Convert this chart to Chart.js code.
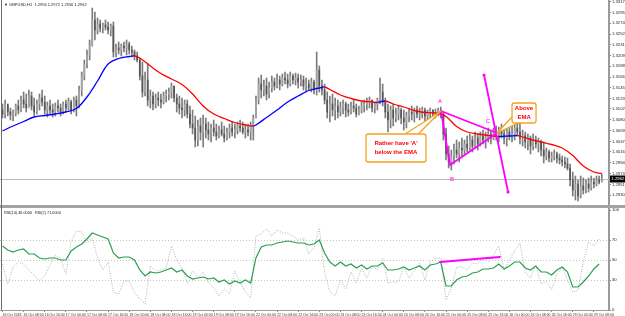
<!DOCTYPE html>
<html>
<head>
<meta charset="utf-8">
<script src="https://cdn.jsdelivr.net/npm/chart.js@4.4.1/dist/chart.umd.min.js"></script>
<style>
html,body{margin:0;padding:0;background:#fff;width:625px;height:316px;overflow:hidden;}
#wrap{position:relative;width:625px;height:316px;background:#fff;}
#c1{position:absolute;left:0;top:0;width:625px;height:205px;}
#c2{position:absolute;left:0;top:208px;width:625px;height:108px;}
#sep{position:absolute;left:0;top:205px;width:625px;height:3px;background:#a3a3a3;}
#lb{position:absolute;left:1px;top:0;width:1px;height:310px;background:#6a6a6a;}
</style>
</head>
<body>
<div id="wrap">
<canvas id="c1" width="625" height="205"></canvas>
<div id="sep"></div>
<canvas id="c2" width="625" height="108"></canvas>
<div id="lb"></div>
</div>
<script>
// ---------------- DATA ----------------
const symbolName = 'GBPUSD,H1';

const openP = [
1.3100,1.3092,1.3112,1.3096,1.3090,1.3094,1.3108,1.3100,1.3120,1.3112,
1.3104,1.3128,1.3108,1.3096,1.3112,1.3124,1.3116,1.3100,1.3108,1.3100,
1.3096,1.3108,1.3104,1.3096,1.3112,1.3104,1.3116,1.3100,1.3120,1.3108,
1.3140,1.3168,1.3192,1.3210,1.3228,1.3280,1.3260,1.3272,1.3264,1.3270,
1.3266,1.3260,1.3268,1.3216,1.3224,1.3220,1.3228,1.3224,1.3232,1.3220,
1.3216,1.3208,1.3200,1.3168,1.3136,1.3160,1.3120,1.3128,1.3112,1.3124,
1.3120,1.3116,1.3128,1.3132,1.3136,1.3148,1.3124,1.3112,1.3104,1.3100,
1.3112,1.3092,1.3072,1.3064,1.3040,1.3068,1.3056,1.3072,1.3060,1.3052,
1.3064,1.3056,1.3048,1.3060,1.3052,1.3044,1.3056,1.3064,1.3056,1.3060,
1.3068,1.3064,1.3056,1.3060,1.3056,1.3068,1.3084,1.3120,1.3152,1.3140,
1.3148,1.3132,1.3144,1.3156,1.3148,1.3160,1.3152,1.3164,1.3160,1.3152,
1.3168,1.3160,1.3164,1.3156,1.3160,1.3148,1.3152,1.3144,1.3156,1.3140,
1.3180,1.3148,1.3140,1.3120,1.3096,1.3112,1.3100,1.3108,1.3096,1.3104,
1.3112,1.3100,1.3096,1.3108,1.3104,1.3092,1.3100,1.3108,1.3112,1.3116,
1.3120,1.3104,1.3112,1.3120,1.3136,1.3116,1.3096,1.3080,1.3100,1.3084,
1.3092,1.3100,1.3084,1.3076,1.3088,1.3096,1.3092,1.3100,1.3092,1.3096,
1.3100,1.3088,1.3096,1.3100,1.3092,1.3096,1.3100,1.3092,1.3052,1.3012,
1.2996,1.3008,1.3020,1.3012,1.3024,1.3020,1.3032,1.3024,1.3040,1.3028,
1.3044,1.3032,1.3048,1.3040,1.3044,1.3052,1.3044,1.3056,1.3048,1.3060,
1.3052,1.3044,1.3056,1.3048,1.3052,1.3064,1.3056,1.3044,1.3048,1.3036,
1.3044,1.3028,1.3040,1.3032,1.3036,1.3020,1.3008,1.3016,1.3004,1.3008,
1.3012,1.3004,1.3000,1.2996,1.2992,1.2984,1.2960,1.2940,1.2952,1.2928,
1.2948,1.2940,1.2952,1.2944,1.2956,1.2952,1.2960,1.2956
];
const highP = [
1.3112,1.3120,1.3110,1.3104,1.3100,1.3112,1.3120,1.3128,1.3136,1.3132,
1.3140,1.3136,1.3124,1.3120,1.3132,1.3140,1.3128,1.3116,1.3120,1.3112,
1.3114,1.3120,1.3112,1.3116,1.3120,1.3124,1.3120,1.3126,1.3128,1.3148,
1.3176,1.3200,1.3220,1.3240,1.3304,1.3296,1.3284,1.3280,1.3274,1.3280,
1.3276,1.3272,1.3276,1.3232,1.3236,1.3232,1.3236,1.3240,1.3236,1.3228,
1.3220,1.3216,1.3204,1.3196,1.3176,1.3192,1.3140,1.3136,1.3132,1.3136,
1.3132,1.3136,1.3140,1.3144,1.3154,1.3148,1.3132,1.3128,1.3124,1.3120,
1.3120,1.3108,1.3100,1.3088,1.3080,1.3084,1.3090,1.3084,1.3076,1.3072,
1.3080,1.3072,1.3068,1.3076,1.3068,1.3064,1.3072,1.3076,1.3072,1.3076,
1.3080,1.3076,1.3072,1.3072,1.3076,1.3090,1.3128,1.3164,1.3170,1.3160,
1.3164,1.3156,1.3168,1.3164,1.3172,1.3168,1.3172,1.3176,1.3172,1.3176,
1.3172,1.3174,1.3172,1.3170,1.3168,1.3164,1.3160,1.3164,1.3160,1.3216,
1.3188,1.3160,1.3152,1.3136,1.3128,1.3132,1.3124,1.3120,1.3116,1.3120,
1.3116,1.3112,1.3116,1.3120,1.3112,1.3108,1.3116,1.3120,1.3124,1.3126,
1.3120,1.3116,1.3124,1.3164,1.3152,1.3124,1.3112,1.3108,1.3112,1.3104,
1.3108,1.3104,1.3100,1.3096,1.3104,1.3108,1.3104,1.3108,1.3104,1.3106,
1.3104,1.3100,1.3104,1.3100,1.3102,1.3104,1.3106,1.3096,1.3064,1.3028,
1.3020,1.3032,1.3040,1.3036,1.3044,1.3040,1.3048,1.3052,1.3048,1.3056,
1.3052,1.3056,1.3060,1.3056,1.3064,1.3060,1.3064,1.3068,1.3066,1.3072,
1.3068,1.3064,1.3072,1.3068,1.3076,1.3084,1.3074,1.3060,1.3056,1.3052,
1.3048,1.3052,1.3048,1.3044,1.3040,1.3036,1.3024,1.3020,1.3016,1.3020,
1.3016,1.3012,1.3008,1.3006,1.3004,1.2992,1.2976,1.2968,1.2960,1.2968,
1.2964,1.2960,1.2964,1.2968,1.2964,1.2968,1.2968,1.2972
];
const lowP = [
1.3084,1.3084,1.3088,1.3080,1.3078,1.3088,1.3092,1.3096,1.3104,1.3096,
1.3108,1.3100,1.3088,1.3092,1.3100,1.3108,1.3092,1.3086,1.3092,1.3086,
1.3088,1.3096,1.3088,1.3092,1.3096,1.3100,1.3092,1.3096,1.3088,1.3104,
1.3128,1.3160,1.3184,1.3200,1.3228,1.3240,1.3252,1.3256,1.3254,1.3260,
1.3252,1.3248,1.3206,1.3206,1.3212,1.3208,1.3216,1.3210,1.3212,1.3206,
1.3200,1.3196,1.3160,1.3126,1.3128,1.3108,1.3104,1.3100,1.3104,1.3108,
1.3104,1.3112,1.3116,1.3120,1.3124,1.3116,1.3096,1.3092,1.3084,1.3088,
1.3084,1.3064,1.3052,1.3026,1.3028,1.3040,1.3026,1.3044,1.3040,1.3036,
1.3048,1.3040,1.3044,1.3048,1.3036,1.3040,1.3044,1.3048,1.3044,1.3052,
1.3056,1.3052,1.3044,1.3048,1.3040,1.3040,1.3084,1.3112,1.3124,1.3128,
1.3120,1.3124,1.3136,1.3140,1.3144,1.3140,1.3148,1.3152,1.3144,1.3148,
1.3152,1.3150,1.3144,1.3148,1.3140,1.3136,1.3140,1.3136,1.3132,1.3130,
1.3136,1.3130,1.3112,1.3084,1.3076,1.3088,1.3080,1.3084,1.3088,1.3092,
1.3086,1.3088,1.3092,1.3096,1.3086,1.3090,1.3094,1.3096,1.3100,1.3104,
1.3096,1.3094,1.3100,1.3112,1.3108,1.3084,1.3056,1.3064,1.3068,1.3076,
1.3080,1.3072,1.3060,1.3064,1.3076,1.3080,1.3076,1.3084,1.3080,1.3084,
1.3078,1.3076,1.3080,1.3082,1.3084,1.3088,1.3084,1.3040,1.3000,1.2984,
1.2980,1.2992,1.3004,1.2996,1.3008,1.3012,1.3016,1.3020,1.3016,1.3024,
1.3020,1.3028,1.3032,1.3024,1.3036,1.3032,1.3040,1.3040,1.3036,1.3044,
1.3032,1.3028,1.3040,1.3036,1.3040,1.3048,1.3032,1.3028,1.3024,1.3020,
1.3012,1.3020,1.3024,1.3016,1.3008,1.2994,1.3000,1.2996,1.2996,1.3000,
1.2994,1.2992,1.2988,1.2984,1.2980,1.2948,1.2928,1.2920,1.2918,1.2924,
1.2932,1.2934,1.2936,1.2940,1.2944,1.2948,1.2952,1.2956
];
const closeP = [
1.3092,1.3112,1.3096,1.3090,1.3094,1.3108,1.3100,1.3120,1.3112,1.3104,
1.3128,1.3108,1.3096,1.3112,1.3124,1.3116,1.3100,1.3108,1.3100,1.3096,
1.3108,1.3104,1.3096,1.3112,1.3104,1.3116,1.3100,1.3120,1.3108,1.3140,
1.3168,1.3192,1.3210,1.3228,1.3280,1.3260,1.3272,1.3264,1.3270,1.3266,
1.3260,1.3268,1.3216,1.3224,1.3220,1.3228,1.3224,1.3232,1.3220,1.3216,
1.3208,1.3200,1.3168,1.3136,1.3160,1.3120,1.3128,1.3112,1.3124,1.3120,
1.3116,1.3128,1.3132,1.3136,1.3148,1.3124,1.3112,1.3104,1.3100,1.3112,
1.3092,1.3072,1.3064,1.3040,1.3068,1.3056,1.3072,1.3060,1.3052,1.3064,
1.3056,1.3048,1.3060,1.3052,1.3044,1.3056,1.3064,1.3056,1.3060,1.3068,
1.3064,1.3056,1.3060,1.3056,1.3068,1.3084,1.3120,1.3152,1.3140,1.3148,
1.3132,1.3144,1.3156,1.3148,1.3160,1.3152,1.3164,1.3160,1.3152,1.3168,
1.3160,1.3164,1.3156,1.3160,1.3148,1.3152,1.3144,1.3156,1.3140,1.3180,
1.3148,1.3140,1.3120,1.3096,1.3112,1.3100,1.3108,1.3096,1.3104,1.3112,
1.3100,1.3096,1.3108,1.3104,1.3092,1.3100,1.3108,1.3112,1.3116,1.3120,
1.3104,1.3112,1.3120,1.3136,1.3116,1.3096,1.3080,1.3100,1.3084,1.3092,
1.3100,1.3084,1.3076,1.3088,1.3096,1.3092,1.3100,1.3092,1.3096,1.3100,
1.3088,1.3096,1.3100,1.3092,1.3096,1.3100,1.3092,1.3052,1.3012,1.2996,
1.3008,1.3020,1.3012,1.3024,1.3020,1.3032,1.3024,1.3040,1.3028,1.3044,
1.3032,1.3048,1.3040,1.3044,1.3052,1.3044,1.3056,1.3048,1.3060,1.3052,
1.3044,1.3056,1.3048,1.3052,1.3064,1.3056,1.3044,1.3048,1.3036,1.3044,
1.3028,1.3040,1.3032,1.3036,1.3020,1.3008,1.3016,1.3004,1.3008,1.3012,
1.3004,1.3000,1.2996,1.2992,1.2984,1.2960,1.2940,1.2952,1.2928,1.2948,
1.2940,1.2952,1.2944,1.2956,1.2952,1.2960,1.2956,1.2962
];

// EMA (bar index -> value)
const emaBars = [0,4,8,12,16,20,24,28,32,36,40,44,48,50,52,56,60,64,68,72,76,80,84,88,92,95,96,100,104,108,112,116,120,122,124,128,132,136,140,142,145,148,152,156,160,164,168,172,176,180,184,188,192,195,196,200,204,208,212,216,220,224,227];
const emaVals = [1.3058,1.3068,1.3077,1.3086,1.3089,1.3092,1.3096,1.3103,1.3126,1.3158,
1.3192,1.3203,1.3207,1.3208,1.3204,1.3188,1.3173,1.3162,1.3151,1.3132,
1.3108,1.3092,1.3083,1.3075,1.3070,1.3068,1.3070,1.3085,1.3100,1.3116,
1.3128,1.3139,1.3144,1.3146,1.3141,1.3130,1.3123,1.3118,1.3116,1.3115,
1.3118,1.3112,1.3106,1.3099,1.3095,1.3094,1.3087,1.3067,1.3056,1.3052,
1.3049,1.3047,1.3048,1.3049,1.3048,1.3041,1.3036,1.3031,1.3024,1.3009,
1.2988,1.2976,1.2973];

// RSI (every second bar)
const rsiBars = [0,2,4,6,8,10,12,14,16,18,20,22,24,26,28,30,32,34,36,38,40,42,44,46,48,50,52,54,56,58,60,62,64,66,68,70,72,74,76,78,80,82,84,86,88,90,92,94,96,98,100,102,104,106,108,110,112,114,116,118,120,122,124,126,128,130,132,134,136,138,140,142,144,146,148,150,152,154,156,158,160,162,164,166,168,170,172,174,176,178,180,182,184,186,188,190,192,194,196,198,200,202,204,206,208,210,212,214,216,218,220,222,224,226];
const rsi14 = [64,60,58,60,61,56,56,52,51,52,
52,50,50,59,63,66,71,77,75,73,
71,57,52,53,53,50,40,34,38,37,
38,40,42,38,40,34,31,32,33,31,
32,28,30,26,29,27,30,27,52,63,
65,65,67,68,69,68,67,67,65,66,
70,57,48,44,48,44,46,42,45,41,
44,44,47,40,40,41,43,40,42,44,
40,45,46,48,24,24,30,33,34,37,
38,41,41,42,46,41,44,48,48,42,
40,44,38,38,35,40,43,38,23,23,
28,34,41,46];
const rsi2 = [46,26,43,48,46,40,35,29,34,45,
55,52,36,69,79,78,67,72,52,40,
48,18,16,29,29,18,11,6,44,39,
40,42,64,50,42,27,39,32,38,28,
22,14,21,16,39,28,18,12,74,76,
81,74,80,77,77,74,70,72,56,62,
82,38,18,14,30,21,38,27,42,32,
44,40,52,27,28,28,43,32,39,47,
30,48,52,52,10,22,43,43,40,47,
46,53,48,55,64,40,50,59,67,38,
32,45,26,29,20,36,43,30,18,20,
48,68,64,71];

// axis tick labels
const priceTicks = [1.3317,1.3295,1.3274,1.3252,1.3231,1.3209,1.3188,1.3166,1.3145,1.3123,1.3102,1.3080,1.3059,1.3037,1.3016,1.2994,1.2973,1.2951,1.2930];
const rsiTicks = [100,70,50,30,0];
const rsiLevels = [70,50,30];
const timeTickBars = [0,8,16,24,32,40,48,56,64,72,80,88,96,104,112,120,128,136,144,152,160,168,176,184,192,200,208,216,224];
const timeLabels = ['16 Oct 2018','16 Oct 08:00','16 Oct 16:00','17 Oct 00:00','17 Oct 08:00','17 Oct 16:00',
'18 Oct 00:00','18 Oct 08:00','18 Oct 16:00','19 Oct 00:00','19 Oct 08:00','19 Oct 16:00',
'22 Oct 00:00','22 Oct 08:00','22 Oct 16:00','23 Oct 00:00','23 Oct 08:00','23 Oct 16:00',
'24 Oct 00:00','24 Oct 08:00','24 Oct 16:00','25 Oct 00:00','25 Oct 08:00','25 Oct 16:00',
'26 Oct 00:00','26 Oct 08:00','26 Oct 16:00','29 Oct 00:00','29 Oct 08:00'];

// hand-drawn annotations (bar index, price / RSI value)
const ptA = [166.1, 1.3098], ptB = [169.5, 1.2990], ptC = [187.3, 1.3054];
const triangleABC = [ptA, ptB, ptC, ptA];
const steepLine = [[182.4, 1.3170], [191.5, 1.2936]];
const pointLabels = [{t:'A', p:[165.7, 1.3117]}, {t:'B', p:[170.3, 1.2962]}, {t:'C', p:[183.9, 1.3078]}];
const rsiTrendLine = [[165.7, 48], [188.4, 53]];
const callouts = [
  {box:[137.7, 1.3052, 160.4, 1.2996], tail:[[152.5, 1.3052],[157.5, 1.3052]], tip:[166.1, 1.3098], lines:["Rather have 'A'", "below the EMA"]},
  {box:[193.0, 1.3114, 202.1, 1.3074], tail:[[193.0, 1.3086],[195.2, 1.3074]], tip:[187.3, 1.3054], lines:["Above", "EMA"]}
];

// ---------------- STYLE ----------------
const FONT = "'Liberation Sans', Arial, sans-serif";
const MAGENTA = '#ff00ff';
const ORANGE = '#f5a31f';
const X_MIN = -0.947, X_MAX = 229.73;
const PRICE_MIN = 1.2910, PRICE_MAX = 1.3320;

Chart.defaults.font.family = FONT;
Chart.defaults.animation = false;

const wickData = highP.map((h, i) => ({x: i, y: [lowP[i], h]}));
const bodyData = openP.map((o, i) => ({x: i, y: [Math.min(o, closeP[i]), Math.max(o, closeP[i])]}));
const bodyColors = openP.map((o, i) => closeP[i] >= o ? '#a4a4a4' : '#555555');
const last = closeP.length - 1;

function rightAxisFit(s) { s.width = 16; s.paddingTop = 0; s.paddingBottom = 0; }

const pricePlugin = {
  id: 'pricePlugin',
  beforeDatasetsDraw(chart) {
    const {ctx, chartArea: a, scales: {y}} = chart;
    const yy = Math.round(y.getPixelForValue(closeP[last])) + 0.5;
    ctx.save();
    ctx.strokeStyle = '#bdbdbd'; ctx.lineWidth = 1;
    ctx.beginPath(); ctx.moveTo(a.left, yy); ctx.lineTo(a.right, yy); ctx.stroke();
    ctx.restore();
  },
  afterDatasetsDraw(chart) {
    const {ctx, scales: {x, y}} = chart;
    const P = p => [x.getPixelForValue(p[0]), y.getPixelForValue(p[1])];
    ctx.save();
    ctx.strokeStyle = MAGENTA; ctx.lineWidth = 1.8; ctx.lineJoin = 'round'; ctx.lineCap = 'round';
    ctx.beginPath();
    triangleABC.forEach((p, i) => { const [px, py] = P(p); i ? ctx.lineTo(px, py) : ctx.moveTo(px, py); });
    ctx.stroke();
    ctx.beginPath();
    steepLine.forEach((p, i) => { const [px, py] = P(p); i ? ctx.lineTo(px, py) : ctx.moveTo(px, py); });
    ctx.stroke();
    ctx.fillStyle = MAGENTA;
    steepLine.forEach(p => { const [px, py] = P(p); ctx.beginPath(); ctx.arc(px, py, 1.6, 0, Math.PI * 2); ctx.fill(); });
    ctx.font = '6px ' + FONT; ctx.textAlign = 'center'; ctx.textBaseline = 'middle';
    pointLabels.forEach(l => { const [px, py] = P(l.p); ctx.fillText(l.t, px, py); });

    callouts.forEach(c => {
      const [bx0, by0] = P([c.box[0], c.box[1]]);
      const [bx1, by1] = P([c.box[2], c.box[3]]);
      const [t0x, t0y] = P(c.tail[0]);
      const [t1x, t1y] = P(c.tail[1]);
      const [tx, ty] = P(c.tip);
      ctx.lineWidth = 1.3; ctx.strokeStyle = ORANGE; ctx.fillStyle = '#ffffff';
      ctx.beginPath(); ctx.moveTo(t0x, t0y); ctx.lineTo(tx, ty); ctx.lineTo(t1x, t1y); ctx.closePath(); ctx.fill();
      ctx.beginPath(); ctx.moveTo(t0x, t0y); ctx.lineTo(tx, ty); ctx.lineTo(t1x, t1y); ctx.stroke();
      ctx.beginPath();
      if (ctx.roundRect) ctx.roundRect(bx0, by0, bx1 - bx0, by1 - by0, 2.5); else ctx.rect(bx0, by0, bx1 - bx0, by1 - by0);
      ctx.fill(); ctx.stroke();
      ctx.fillStyle = '#ff0000'; ctx.font = 'bold 6px ' + FONT; ctx.textAlign = 'center'; ctx.textBaseline = 'middle';
      const cx = (bx0 + bx1) / 2, cy = (by0 + by1) / 2;
      const n = c.lines.length;
      c.lines.forEach((t, i) => ctx.fillText(t, cx, cy + (i - (n - 1) / 2) * 8.5));
    });
    ctx.restore();
  },
  afterDraw(chart) {
    const {ctx, chartArea: a, scales: {y}} = chart;
    ctx.save();
    ctx.fillStyle = '#222'; ctx.font = '4px ' + FONT; ctx.textAlign = 'left'; ctx.textBaseline = 'top';
    ctx.fillText('\u25BC ' + symbolName + '  ' + openP[last].toFixed(4) + ' ' + highP[last].toFixed(4) + ' ' + lowP[last].toFixed(4) + ' ' + closeP[last].toFixed(4), 4, 3);
    const yy = y.getPixelForValue(closeP[last]);
    ctx.fillStyle = '#000'; ctx.fillRect(a.right + 1, yy - 3.5, chart.width - a.right - 1, 7);
    ctx.fillStyle = '#fff'; ctx.font = '4.2px ' + FONT; ctx.textBaseline = 'middle';
    ctx.fillText(closeP[last].toFixed(4), a.right + 2.5, yy);
    ctx.restore();
  }
};

new Chart(document.getElementById('c1'), {
  type: 'bar',
  data: {
    datasets: [
      {type: 'line', label: 'EMA', data: emaBars.map((b, k) => ({x: b, y: emaVals[k]})),
       borderColor: '#ff0000', borderWidth: 1.3, pointRadius: 0, tension: 0.35, order: 0,
       segment: {borderColor: c => c.p1.parsed.y >= c.p0.parsed.y ? '#0000ff' : '#ff0000'}},
      {label: 'Body', data: bodyData, backgroundColor: bodyColors, barThickness: 1, grouped: false, order: 1},
      {label: 'Range', data: wickData, backgroundColor: '#7c7c7c', barThickness: 1, grouped: false, order: 2}
    ]
  },
  options: {
    responsive: false, devicePixelRatio: 1, animation: false, events: [],
    layout: {padding: 0},
    plugins: {legend: {display: false}, tooltip: {enabled: false}},
    scales: {
      x: {type: 'linear', min: X_MIN, max: X_MAX, display: false, offset: false},
      y: {position: 'right', min: PRICE_MIN, max: PRICE_MAX, beginAtZero: false,
          afterFit: rightAxisFit,
          afterBuildTicks: s => { s.ticks = priceTicks.map(v => ({value: v})); },
          ticks: {font: {size: 4.2}, color: '#222', padding: 1, callback: v => Number(v).toFixed(4)},
          grid: {drawOnChartArea: false, drawTicks: true, tickLength: 2, color: '#888'},
          border: {display: true, color: '#9a9a9a', width: 2}}
    }
  },
  plugins: [pricePlugin]
});

const rsiPlugin = {
  id: 'rsiPlugin',
  beforeDatasetsDraw(chart) {
    const {ctx, chartArea: a, scales: {y}} = chart;
    ctx.save();
    ctx.strokeStyle = '#c4c4c4'; ctx.lineWidth = 1; ctx.setLineDash([1, 2]);
    rsiLevels.forEach(v => {
      const yy = Math.round(y.getPixelForValue(v)) + 0.5;
      ctx.beginPath(); ctx.moveTo(a.left, yy); ctx.lineTo(a.right, yy); ctx.stroke();
    });
    ctx.restore();
  },
  afterDatasetsDraw(chart) {
    const {ctx, scales: {x, y}} = chart;
    ctx.save();
    ctx.strokeStyle = MAGENTA; ctx.lineWidth = 1.8; ctx.lineCap = 'round';
    ctx.beginPath();
    rsiTrendLine.forEach((p, i) => { const px = x.getPixelForValue(p[0]), py = y.getPixelForValue(p[1]); i ? ctx.lineTo(px, py) : ctx.moveTo(px, py); });
    ctx.stroke();
    ctx.restore();
  },
  afterDraw(chart) {
    const {ctx} = chart;
    ctx.save();
    ctx.fillStyle = '#222'; ctx.font = '3.8px ' + FONT; ctx.textAlign = 'left'; ctx.textBaseline = 'top';
    ctx.fillText('RSI(14) ' + rsi14[rsi14.length - 1].toFixed(4) + '   RSI(2) ' + rsi2[rsi2.length - 1].toFixed(4), 4, 3);
    ctx.restore();
  }
};

new Chart(document.getElementById('c2'), {
  type: 'line',
  data: {
    datasets: [
      {label: 'RSI(14)', data: rsiBars.map((b, k) => ({x: b, y: rsi14[k]})), borderColor: '#2a9f50', borderWidth: 1.2, pointRadius: 0, order: 0},
      {label: 'RSI(2)', data: rsiBars.map((b, k) => ({x: b, y: rsi2[k]})), borderColor: '#b0b0b0', borderWidth: 1, borderDash: [1, 1.5], pointRadius: 0, order: 1}
    ]
  },
  options: {
    responsive: false, devicePixelRatio: 1, animation: false, events: [],
    layout: {padding: 0},
    plugins: {legend: {display: false}, tooltip: {enabled: false}},
    scales: {
      x: {type: 'linear', min: X_MIN, max: X_MAX, position: 'bottom', offset: false,
          afterFit: s => { s.height = 6; s.paddingLeft = 0; s.paddingRight = 0; },
          afterBuildTicks: s => { s.ticks = timeTickBars.map(v => ({value: v})); },
          ticks: {autoSkip: false, maxRotation: 0, minRotation: 0, align: 'start', padding: 0.5,
                  font: {size: 3.5}, color: '#333', callback: (v, i) => timeLabels[i]},
          grid: {drawOnChartArea: false, drawTicks: true, tickLength: 2, color: '#888'},
          border: {display: true, color: '#9a9a9a', width: 1}},
      y: {position: 'right', min: 0, max: 102,
          afterFit: rightAxisFit,
          afterBuildTicks: s => { s.ticks = rsiTicks.map(v => ({value: v})); },
          ticks: {font: {size: 4.2}, color: '#222', padding: 1},
          grid: {drawOnChartArea: false, drawTicks: true, tickLength: 2, color: '#888'},
          border: {display: true, color: '#9a9a9a', width: 2}}
    }
  },
  plugins: [rsiPlugin]
});
</script>
</body>
</html>
